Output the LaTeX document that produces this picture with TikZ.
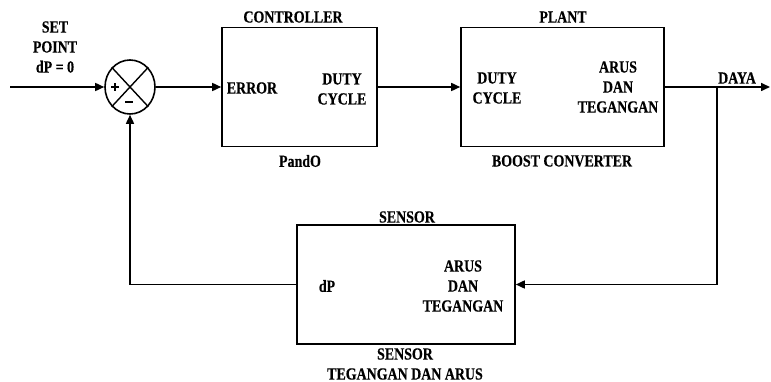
\documentclass[tikz,border=0pt]{standalone}
\usepackage{fontspec}
\newfontfamily\lblfont{Liberation Serif Bold}[FakeStretch=0.82, FakeBold=0.4]
\usetikzlibrary{arrows.meta,shapes.geometric}
\begin{document}
\begin{tikzpicture}[x=1pt,y=-1pt,line width=1.6pt,
  lbl/.style={font=\lblfont\fontsize{17}{20}\selectfont, align=center, inner sep=0pt},
  blk/.style={draw, inner sep=0pt},
  sign/.style={line width=2.6pt},
  arr/.style={-{Triangle[length=9pt,width=8pt]}}]
\useasboundingbox (0,0) rectangle (771,382);
% blocks
\node[blk, minimum width=155pt, minimum height=119pt] (ctrl) at (299.5,87) {};
\node[blk, minimum width=203pt, minimum height=119pt] (plant) at (562.5,87) {};
\node[blk, minimum width=218pt, minimum height=119pt] (sens) at (406,284.5) {};
\node[draw, ellipse, minimum width=50pt, minimum height=54pt, inner sep=0pt] (sum) at (130,87) {};
\draw[line width=1.4pt] (sum.north east) -- (sum.south west) (sum.north west) -- (sum.south east);
\coordinate (plus) at (115,87);
\coordinate (minus) at (129,102);
\draw[sign] ([xshift=-4pt]plus) -- ([xshift=4pt]plus) ([yshift=-4pt]plus) -- ([yshift=4pt]plus);
\draw[sign] ([xshift=-4pt]minus) -- ([xshift=4pt]minus);
% coordinates
\coordinate (in) at (10,87);
\coordinate (out) at (770,87);
\coordinate (br) at (717,87);
% connectors
\draw[arr] (in) -- (sum.west);
\draw[arr] (sum.east) -- (ctrl.west);
\draw[arr] (ctrl.east) -- (plant.west);
\draw[arr] (plant.east) -- (out);
\draw[arr] (br) |- (sens.east);
\draw[arr] (sens.west) -| (sum.south);
% labels
\node[lbl] (sp) at (55,47) {SET\\POINT\\dP = 0};
\node[lbl] (ctrlt) at (293,17) {CONTROLLER};
\node[lbl] (ctrlb) at (300,161) {PandO};
\node[lbl, anchor=west] (err) at (226,88) {ERROR};
\node[lbl] (dc1) at (342,89) {DUTY\\CYCLE};
\node[lbl] (plantt) at (563,17) {PLANT};
\node[lbl] (dc2) at (497,88) {DUTY\\CYCLE};
\node[lbl] (adt1) at (618,87) {ARUS\\DAN\\TEGANGAN};
\node[lbl] (plantb) at (562,161) {BOOST CONVERTER};
\node[lbl] (daya) at (737,78) {DAYA};
\node[lbl] (senst) at (407,217) {SENSOR};
\node[lbl] (dp) at (327,286) {dP};
\node[lbl] (adt2) at (463,286) {ARUS\\DAN\\TEGANGAN};
\node[lbl] (sensb) at (405,364) {SENSOR\\TEGANGAN DAN ARUS};
\end{tikzpicture}
\end{document}
